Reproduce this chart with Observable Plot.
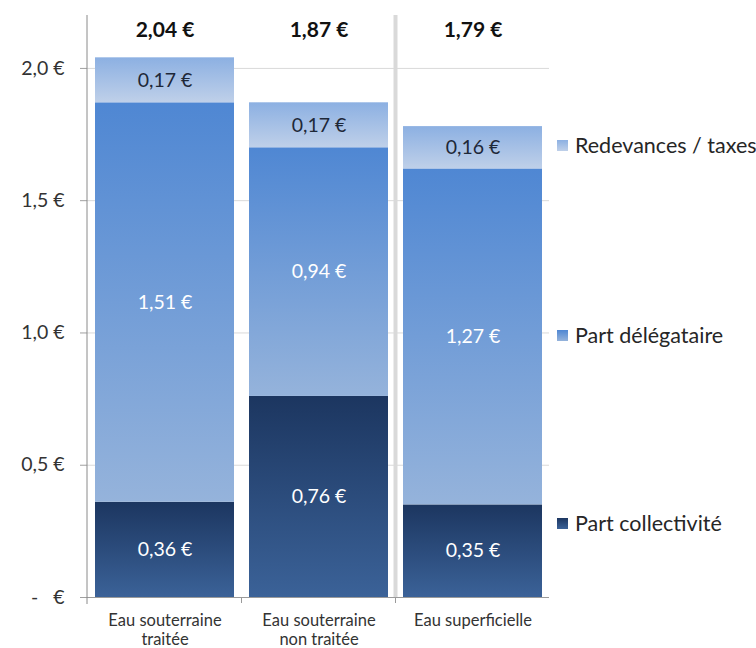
<!DOCTYPE html>
<html>
<head>
<meta charset="utf-8">
<script src="https://cdn.jsdelivr.net/npm/d3@7"></script>
<script src="https://cdn.jsdelivr.net/npm/@observablehq/plot@0.6"></script>
<style>
  html, body { margin: 0; padding: 0; background: #fff; }
  #wrap { position: relative; width: 756px; height: 648px; font-family: Lato, "Open Sans", sans-serif; }
  #legend { position: absolute; left: 557px; top: 0; }
  .li { position: absolute; left: 0; white-space: nowrap; font-size: 21.5px; color: #262626; display: flex; align-items: center; }
  .sw { width: 11px; height: 11px; margin-right: 7px; }
</style>
</head>
<body>
<div id="wrap"></div>
<script>
const categories = ["Eau souterraine\ntraitée", "Eau souterraine\nnon traitée", "Eau superficielle"];
const series = ["Part collectivité", "Part délégataire", "Redevances / taxes"];
const collectivite = [0.36, 0.76, 0.35];
const delegataire = [1.51, 0.94, 1.27];
const redevances = [0.17, 0.17, 0.16];
const totals = ["2,04 €", "1,87 €", "1,79 €"];
const yTicks = [0, 0.5, 1.0, 1.5, 2.0];

const gradients = {
  "Part collectivité": ["#1c3660", "#3b6298"],
  "Part délégataire": ["#4f87d3", "#95b3db"],
  "Redevances / taxes": ["#8cb0e2", "#bfd0e9"]
};
const labelColor = {"Part collectivité": "#ffffff", "Part délégataire": "#ffffff", "Redevances / taxes": "#1e2838"};

const values = [collectivite, delegataire, redevances];
const data = [];
series.forEach((s, si) => categories.forEach((c, ci) => {
  data.push({cat: c, series: s, value: values[si][ci], label: values[si][ci].toFixed(2).replace(".", ",") + " €"});
}));
const totalData = categories.map((c, i) => ({cat: c, label: totals[i]}));

const fmt = d => d === 0 ? "-\u00a0\u00a0\u00a0€" : d.toFixed(1).replace(".", ",") + " €";

const plot = Plot.plot({
  width: 756,
  height: 648,
  marginLeft: 87,
  marginRight: 207,
  marginTop: 15,
  marginBottom: 51,
  style: {fontFamily: "Lato, 'Open Sans', sans-serif", background: "#fff", overflow: "visible"},
  x: {domain: categories, paddingInner: 0.1, paddingOuter: 0.05, label: null},
  y: {domain: [0, 2.2], label: null},
  color: {type: "ordinal", domain: series, range: series.map((s, i) => `url(#grad${i})`)},
  marks: [
    Plot.ruleY(yTicks.filter(d => d > 0), {stroke: "#d9d9d9", strokeWidth: 1}),
    Plot.barY(data, {x: "cat", y: "value", fill: "series", order: series}),
    Plot.text(data, Plot.stackY({x: "cat", y: "value", z: "series", order: series, text: "label",
      fill: d => labelColor[d.series], fontSize: 19.5})),
    Plot.text(totalData, {x: "cat", text: "label", frameAnchor: "top", dy: 7, fontSize: 21, fontWeight: "bold", fill: "#111"}),
    Plot.ruleY([0], {stroke: "#9a9a9a", strokeWidth: 1}),
    Plot.axisY({ticks: yTicks, tickFormat: fmt, tickSize: 7, tickPadding: 16, fontSize: 19.5, color: "#333", stroke: "#a0a0a0", label: null}),
    Plot.axisX({tickSize: 0, tickPadding: 16, fontSize: 16.5, lineHeight: 1.1, color: "#333", label: null})
  ]
});

// gradient definitions used by the color scale
const svg = d3.select(plot);
const defs = svg.insert("defs", ":first-child");
series.forEach((s, i) => {
  const g = defs.append("linearGradient").attr("id", `grad${i}`).attr("x1", 0).attr("y1", 0).attr("x2", 0).attr("y2", 1);
  g.append("stop").attr("offset", "0%").attr("stop-color", gradients[s][0]);
  g.append("stop").attr("offset", "100%").attr("stop-color", gradients[s][1]);
});

// axis line, separator and category ticks derived from the plot's scales
const xs = plot.scale("x"), ys = plot.scale("y");
const x0 = xs.range[0];
const yTop = ys.apply(2.2), yBase = ys.apply(0);
const sepX = (xs.apply(categories[1]) + xs.bandwidth + xs.apply(categories[2])) / 2;
const lines = svg.append("g");
lines.append("line").attr("x1", sepX).attr("x2", sepX).attr("y1", yTop).attr("y2", yBase)
  .attr("stroke", "#d9d9d9").attr("stroke-width", 4);
lines.append("line").attr("x1", x0).attr("x2", x0).attr("y1", yTop).attr("y2", yBase + 7)
  .attr("stroke", "#8a8a8a").attr("stroke-width", 1);
[1, 2].forEach(k => {
  const bx = (xs.apply(categories[k - 1]) + xs.bandwidth + xs.apply(categories[k])) / 2;
  lines.append("line").attr("x1", bx).attr("x2", bx).attr("y1", yBase).attr("y2", yBase + 6).attr("stroke", "#9a9a9a");
});

const wrap = document.getElementById("wrap");
wrap.appendChild(plot);

// legend
const legendPos = {"Redevances / taxes": 145, "Part délégataire": 335, "Part collectivité": 523};
const legend = document.createElement("div");
legend.id = "legend";
series.slice().reverse().forEach(s => {
  const item = document.createElement("div");
  item.className = "li";
  item.style.top = (legendPos[s] - 12) + "px";
  item.style.height = "24px";
  const sw = document.createElement("div");
  sw.className = "sw";
  sw.style.background = `linear-gradient(${gradients[s][0]}, ${gradients[s][1]})`;
  const t = document.createElement("span");
  t.textContent = s;
  item.appendChild(sw); item.appendChild(t);
  legend.appendChild(item);
});
wrap.appendChild(legend);
</script>
</body>
</html>
